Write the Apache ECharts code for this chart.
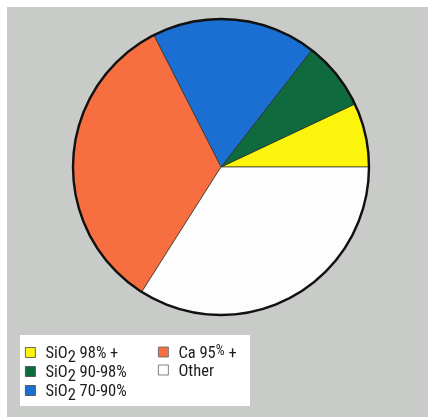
<!DOCTYPE html>
<html>
<head>
<meta charset="utf-8">
<script src="https://cdn.jsdelivr.net/npm/echarts@6/dist/echarts.min.js"></script>
<style>
  html, body { margin: 0; padding: 0; background: #fff; }
  #chart { width: 430px; height: 417px; }
</style>
</head>
<body>
<div id="chart"></div>
<script>
// Share of each source type (percent)
const categories = ['SiO2 98% +', 'SiO2 90-98%', 'SiO2 70-90%', 'Ca 95% +', 'Other'];
const shares = [7, 7.5, 18, 33.5, 34];
const colors = ['#fbf40d', '#0f6b3d', '#1b6fd2', '#f76f40', '#fdfdfd'];

const legendLeftNames = categories.slice(0, 3);
const legendRightNames = categories.slice(3);

const FONT = "'Liberation Sans Narrow', 'Roboto Condensed', 'Arial Narrow', Roboto, sans-serif";
const INK = '#1c1c1c';
const FS = 16.5;

const chart = echarts.init(document.getElementById('chart'), null, { renderer: 'canvas' });

// SiO2 gets a lowered "2", the Ca percent sign sits raised;
// the first run carries extra left room after the swatch
function fmt(name) {
  if (name.indexOf('SiO2') === 0) {
    return '{a|SiO}{sub|2}{t|' + name.slice(4) + '}';
  }
  if (name.indexOf('%') >= 0) {
    const i = name.indexOf('%');
    return '{a|' + name.slice(0, i) + '}{sup|%}{t|' + name.slice(i + 1) + '}';
  }
  return '{a|' + name + '}';
}

// every run is 24px tall so rows line up; padding moves glyphs inside that band
const legendText = {
  color: INK,
  fontSize: FS,
  fontFamily: FONT,
  rich: {
    a: { fontSize: FS, fontFamily: FONT, color: INK, lineHeight: 15, padding: [6, 0, 3, 5] },
    t: { fontSize: FS, fontFamily: FONT, color: INK, lineHeight: 15, padding: [6, 0, 3, 0] },
    sub: { fontSize: FS, fontFamily: FONT, color: INK, lineHeight: 14, padding: [10, 0, 0, 0] },
    sup: { fontSize: 14, fontFamily: FONT, color: INK, lineHeight: 12, padding: [5, 0, 7, 0] }
  }
};

const legendBase = {
  orient: 'vertical',
  top: 339,
  itemWidth: 10,
  itemHeight: 10,
  itemGap: -8,
  padding: 0,
  icon: 'rect',
  formatter: fmt,
  textStyle: legendText,
  selectedMode: false
};

chart.setOption({
  animation: false,
  backgroundColor: '#ffffff',
  graphic: [{
    type: 'rect',
    z: -10,
    silent: true,
    shape: { x: 7, y: 7, width: 421, height: 410 },
    style: { fill: '#c8cbc7' }
  }, {
    // legend panel
    type: 'rect',
    z: -5,
    silent: true,
    shape: { x: 20, y: 335, width: 230, height: 71 },
    style: { fill: '#ffffff' }
  }],
  legend: [
    Object.assign({}, legendBase, {
      data: legendLeftNames,
      left: 25,
      itemStyle: { borderColor: '#444', borderWidth: 0.8 }
    }),
    Object.assign({}, legendBase, {
      data: legendRightNames,
      left: 158,
      itemStyle: { borderColor: '#666', borderWidth: 0.8 }
    })
  ],
  series: [{
    type: 'pie',
    center: [221, 167],
    radius: [0, 148],
    startAngle: 0,
    clockwise: false,
    silent: true,
    label: { show: false },
    labelLine: { show: false },
    itemStyle: { borderColor: 'rgba(40,40,30,0.75)', borderWidth: 0.9 },
    emphasis: { disabled: true },
    data: categories.map((name, i) => ({
      name: name,
      value: shares[i],
      itemStyle: { color: colors[i] }
    }))
  }, {
    // outer rim of the pie
    type: 'pie',
    center: [221, 167],
    radius: [0, 148],
    silent: true,
    label: { show: false },
    labelLine: { show: false },
    emphasis: { disabled: true },
    itemStyle: { color: 'transparent', borderColor: '#111', borderWidth: 2.4 },
    data: [{ name: 'rim', value: 1 }]
  }]
});
</script>
</body>
</html>
